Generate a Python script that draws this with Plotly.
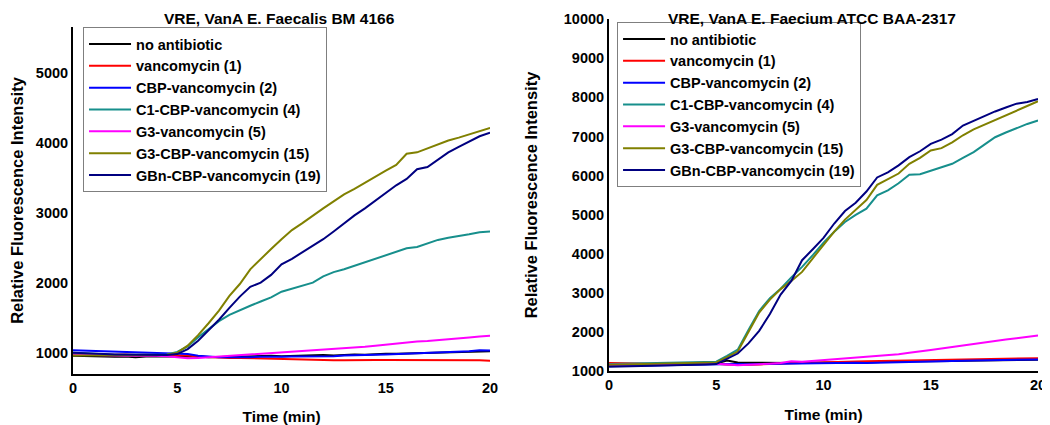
"""
VRE growth curves: relative fluorescence vs time for two VanA strains.
"""

import plotly.graph_objs as go

# Sampling times (min), shared by both panels
time_min = [0, 0.5, 1, 1.5, 2, 2.5, 3, 3.5, 4, 4.5, 5, 5.5, 6, 6.5, 7, 7.5,
            8, 8.5, 9, 9.5, 10, 10.5, 11, 11.5, 12, 12.5, 13, 13.5, 14, 14.5,
            15, 15.5, 16, 16.5, 17, 17.5, 18, 18.5, 19, 19.5, 20]

series_names = [
    'no antibiotic',
    'vancomycin (1)',
    'CBP-vancomycin (2)',
    'C1-CBP-vancomycin (4)',
    'G3-vancomycin (5)',
    'G3-CBP-vancomycin (15)',
    'GBn-CBP-vancomycin (19)',
]
series_colors = ['#000000', '#FF0000', '#0000FF', '#178F8C', '#FF00FF',
                 '#808000', '#000080']

# Panel A: E. faecalis BM 4166
faecalis_none = [955, 950, 940, 940, 940, 945, 935, 945, 945, 940, 945, 950,
                 945, 935, 940, 945, 950, 945, 950, 955, 950, 955, 960, 970,
                 965, 960, 970, 975, 970, 980, 985, 985, 990, 995, 990, 995,
                 1000, 1005, 1010, 1020, 1020]
faecalis_vanco = [985, 980, 975, 975, 970, 975, 965, 970, 970, 965, 965, 960,
                  945, 935, 930, 925, 925, 920, 915, 910, 910, 905, 900, 895,
                  890, 890, 890, 895, 890, 895, 895, 895, 900, 890, 895, 890,
                  900, 895, 890, 890, 885]
faecalis_cbp = [1035, 1030, 1025, 1015, 1005, 1000, 995, 990, 990, 985, 985,
                980, 955, 940, 935, 935, 930, 935, 940, 935, 940, 945, 945,
                955, 955, 950, 960, 960, 965, 970, 975, 980, 985, 990, 995,
                1000, 1005, 1010, 1020, 1035, 1030]
faecalis_c1_cbp = [1000, 990, 980, 975, 970, 970, 965, 970, 970, 975, 1010,
                   1090, 1220, 1340, 1450, 1540, 1610, 1670, 1730, 1790, 1870,
                   1910, 1950, 2000, 2090, 2150, 2190, 2240, 2290, 2330, 2390,
                   2440, 2490, 2510, 2560, 2610, 2640, 2660, 2690, 2720, 2730]
faecalis_g3 = [975, 970, 960, 955, 955, 955, 955, 960, 955, 950, 940, 920,
               925, 935, 945, 950, 960, 965, 975, 985, 995, 1005, 1015, 1025,
               1035, 1045, 1060, 1075, 1085, 1100, 1115, 1130, 1155, 1160,
               1165, 1175, 1185, 1200, 1215, 1230, 1240]
faecalis_g3_cbp = [960, 960, 955, 955, 955, 960, 960, 960, 965, 970, 1000,
                   1100, 1250, 1420, 1600, 1810, 1980, 2190, 2340, 2480, 2620,
                   2750, 2850, 2960, 3060, 3160, 3260, 3340, 3430, 3510, 3600,
                   3680, 3840, 3860, 3920, 3970, 4030, 4070, 4120, 4170, 4210]
faecalis_gbn_cbp = [1000, 990, 985, 980, 975, 975, 970, 970, 965, 965, 980,
                    1050, 1170, 1320, 1470, 1640, 1800, 1940, 2000, 2110, 2260,
                    2340, 2430, 2530, 2620, 2730, 2850, 2960, 3060, 3170, 3280,
                    3390, 3480, 3620, 3650, 3760, 3860, 3940, 4020, 4090, 4140]

# Panel B: E. faecium ATCC BAA-2317
faecium_none = [1160, 1160, 1165, 1165, 1170, 1170, 1170, 1175, 1180, 1180,
                1185, 1260, 1210, 1205, 1200, 1200, 1195, 1200, 1205, 1210,
                1215, 1220, 1220, 1215, 1210, 1225, 1230, 1235, 1235, 1240,
                1245, 1250, 1250, 1255, 1260, 1265, 1270, 1270, 1275, 1280,
                1280]
faecium_vanco = [1200, 1190, 1185, 1185, 1180, 1180, 1180, 1180, 1180, 1180,
                 1175, 1160, 1150, 1155, 1160, 1165, 1170, 1190, 1200, 1210,
                 1220, 1225, 1230, 1235, 1240, 1245, 1250, 1255, 1255, 1260,
                 1265, 1270, 1270, 1280, 1290, 1290, 1300, 1305, 1310, 1315,
                 1320]
faecium_cbp = [1120, 1120, 1125, 1130, 1135, 1140, 1145, 1150, 1150, 1155,
               1160, 1180, 1170, 1165, 1170, 1175, 1180, 1185, 1190, 1195,
               1200, 1200, 1200, 1205, 1200, 1210, 1215, 1220, 1225, 1230,
               1240, 1245, 1250, 1255, 1260, 1265, 1270, 1275, 1280, 1285,
               1290]
faecium_c1_cbp = [1170, 1175, 1180, 1185, 1190, 1195, 1200, 1205, 1210, 1215,
                  1230, 1380, 1540, 2040, 2530, 2860, 3100, 3390, 3660, 3960,
                  4280, 4560, 4810, 4990, 5150, 5490, 5620, 5800, 6020, 6030,
                  6120, 6210, 6300, 6450, 6600, 6790, 6980, 7100, 7220, 7320,
                  7410]
faecium_g3 = [1150, 1150, 1155, 1160, 1160, 1165, 1165, 1170, 1170, 1175,
              1180, 1160, 1140, 1150, 1160, 1180, 1200, 1240, 1230, 1250,
              1270, 1290, 1310, 1330, 1350, 1370, 1400, 1420, 1460, 1490,
              1530, 1570, 1610, 1640, 1680, 1720, 1760, 1800, 1830, 1870,
              1900]
faecium_g3_cbp = [1150, 1155, 1160, 1165, 1170, 1175, 1180, 1185, 1190, 1195,
                  1210, 1350, 1490, 1990, 2490, 2820, 3090, 3300, 3530, 3880,
                  4230, 4560, 4870, 5120, 5370, 5760, 5900, 6050, 6300, 6450,
                  6640, 6700, 6850, 7030, 7180, 7300, 7410, 7530, 7670, 7790,
                  7900]
faecium_gbn_cbp = [1100, 1105, 1110, 1115, 1120, 1125, 1130, 1140, 1150, 1160,
                   1170, 1300, 1440, 1700, 2020, 2450, 2950, 3300, 3830, 4110,
                   4400, 4770, 5090, 5300, 5590, 5950, 6080, 6260, 6470, 6620,
                   6810, 6920, 7060, 7280, 7400, 7530, 7640, 7740, 7840, 7880,
                   7960]

faecalis_series = [faecalis_none, faecalis_vanco, faecalis_cbp,
                   faecalis_c1_cbp, faecalis_g3, faecalis_g3_cbp,
                   faecalis_gbn_cbp]
faecium_series = [faecium_none, faecium_vanco, faecium_cbp, faecium_c1_cbp,
                  faecium_g3, faecium_g3_cbp, faecium_gbn_cbp]

FONT = 'Liberation Sans, Arial, sans-serif'

fig = go.Figure()

# Left panel traces
for name, color, values in zip(series_names, series_colors, faecalis_series):
    fig.add_trace(go.Scatter(
        x=time_min, y=values, name=name, mode='lines',
        line=dict(color=color, width=2),
        xaxis='x', yaxis='y', legend='legend'
    ))

# Right panel traces
for name, color, values in zip(series_names, series_colors, faecium_series):
    fig.add_trace(go.Scatter(
        x=time_min, y=values, name=name, mode='lines',
        line=dict(color=color, width=2),
        xaxis='x2', yaxis='y2', legend='legend2'
    ))

axis_common = dict(
    showgrid=False, zeroline=False, showline=True, automargin=False,
    linecolor='black', linewidth=2, ticks='', ticklabeloverflow='allow',
    tickformat='d',
    tickfont=dict(family=FONT, size=14.5, color='black', weight='bold'),
)
xtitle_font = dict(family=FONT, size=15.5, color='black', weight='bold')
ytitle_font = dict(family=FONT, size=16.5, color='black', weight='bold')
legend_common = dict(
    xanchor='left', yanchor='top',
    bgcolor='white', bordercolor='#7f7f7f', borderwidth=1,
    font=dict(family=FONT, size=14.5, color='black', weight='bold'),
    tracegroupgap=0, itemwidth=42,
)
title_font = dict(family=FONT, size=15.5, color='black', weight='bold')

# The page body adds an 8px offset, so the figure is sized to fit after it
fig.update_layout(
    width=1042, height=417,
    margin=dict(l=0, r=0, t=0, b=0, autoexpand=False),
    plot_bgcolor='white', paper_bgcolor='white',
    xaxis=dict(domain=[0.0624, 0.4626], range=[0, 20], dtick=5,
               anchor='y',
               title=dict(text='Time (min)', font=xtitle_font, standoff=17),
               **axis_common),
    yaxis=dict(domain=[0.1223, 0.9544], range=[695, 5650],
               tickvals=[1000, 2000, 3000, 4000, 5000], anchor='x',
               title=dict(text='Relative Fluorescence Intensity',
                          font=ytitle_font, standoff=12),
               **axis_common),
    xaxis2=dict(domain=[0.5768, 0.9885], range=[0, 20], dtick=5,
                anchor='y2',
                title=dict(text='Time (min)', font=xtitle_font, standoff=17),
                **axis_common),
    yaxis2=dict(domain=[0.1302, 0.9729], range=[1000, 10000], dtick=1000,
                anchor='x2',
                title=dict(text='Relative Fluorescence Intensity',
                           font=ytitle_font, standoff=22),
                **axis_common),
    legend=dict(x=0.0720, y=0.9544, **legend_common),
    legend2=dict(x=0.5845, y=0.9664, **legend_common),
    annotations=[
        dict(text='VRE, VanA E. Faecalis BM 4166', x=0.261, y=1.0,
             xref='paper', yref='paper', xanchor='center', yanchor='top',
             showarrow=False, font=title_font),
        dict(text='VRE, VanA E. Faecium ATCC BAA-2317', x=0.772, y=1.0,
             xref='paper', yref='paper', xanchor='center', yanchor='top',
             showarrow=False, font=title_font),
    ],
)

fig.write_html("out.html")
